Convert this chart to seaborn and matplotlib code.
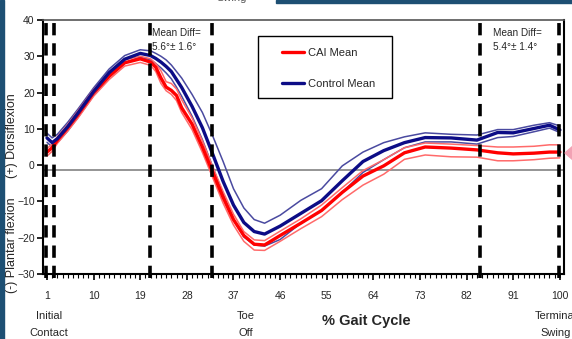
import numpy as np
import pandas as pd
import matplotlib
matplotlib.use("Agg")
import matplotlib.pyplot as plt
import seaborn as sns
from matplotlib.lines import Line2D
from matplotlib.patches import Rectangle, Polygon

# % gait cycle sample points
gait_pct = [1, 2, 3, 5, 7, 10, 13, 16, 19, 21, 22, 23, 24, 25, 26, 27, 29, 31, 33, 35,
            37, 39, 41, 43, 46, 50, 54, 58, 62, 66, 70, 74, 79, 84, 88, 91, 95, 98, 100]

control_mean = [7.5, 6.2, 7.3, 10.6, 14.4, 20.3, 25.5, 29.2, 30.8, 30.2, 29.4, 28.4, 27.2, 25.8,
                23.6, 21.4, 16.2, 10.3, 3.0, -4.5, -11.0, -15.8, -18.3, -19.0, -16.8, -13.3,
                -9.8, -4.3, 1.0, 4.0, 6.2, 7.6, 7.5, 6.9, 9.0, 8.9, 10.1, 11.0, 9.7]
control_upper = [8.8, 7.5, 8.5, 11.8, 15.5, 21.3, 26.5, 30.2, 31.8, 31.5, 30.8, 30.0, 29.0, 27.6,
                 25.8, 24.0, 19.5, 14.5, 8.0, 1.0, -6.5, -11.8, -15.0, -16.0, -13.8, -9.7,
                 -6.5, -0.2, 3.6, 6.2, 7.8, 8.9, 8.5, 8.3, 9.8, 9.8, 11.0, 11.7, 10.8]
control_lower = [6.3, 5.0, 6.2, 9.4, 13.2, 19.2, 24.4, 28.2, 29.8, 29.0, 28.0, 26.8, 25.4, 23.8,
                 21.5, 19.0, 13.5, 7.0, -0.5, -8.0, -15.0, -19.8, -22.0, -22.3, -20.5, -16.0,
                 -12.5, -7.5, -2.0, 1.5, 4.8, 6.4, 6.4, 5.8, 7.6, 7.9, 9.2, 10.2, 9.0]

cai_mean = [3.6, 4.8, 6.9, 10.3, 14.0, 20.0, 24.5, 28.2, 29.3, 28.4, 27.0, 24.0, 21.5, 20.6,
            19.2, 15.8, 11.3, 5.0, -2.0, -8.9, -15.0, -19.4, -21.8, -22.0, -19.4, -16.0,
            -12.5, -7.5, -3.0, -0.2, 3.4, 5.0, 4.7, 4.2, 3.4, 3.1, 3.3, 3.6, 3.6]
cai_upper = [4.6, 5.8, 7.8, 11.2, 15.0, 20.8, 25.3, 29.0, 30.0, 29.3, 28.0, 26.0, 23.0, 22.5,
             21.0, 18.0, 13.0, 6.7, -0.5, -7.3, -13.5, -18.3, -20.6, -20.8, -18.2, -14.8,
             -11.0, -6.2, -1.5, 1.5, 4.8, 6.1, 5.8, 5.4, 5.0, 5.0, 5.2, 5.6, 5.6]
cai_lower = [2.5, 3.8, 6.0, 9.4, 13.0, 19.0, 23.6, 27.3, 28.3, 27.5, 25.8, 22.5, 20.5, 19.5,
             17.8, 14.5, 9.8, 3.5, -3.5, -10.5, -16.5, -21.0, -23.4, -23.5, -21.0, -17.5,
             -14.2, -9.5, -5.5, -2.5, 1.6, 2.8, 2.3, 2.2, 1.2, 1.2, 1.5, 1.9, 2.0]

# gait events (dashed lines)
event_lines = [0.8, 2.4, 20.9, 32.9, 84.6, 99.8]
x_ticks = [1, 10, 19, 28, 37, 46, 55, 64, 73, 82, 91, 100]
y_ticks = [-30, -20, -10, 0, 10, 20, 30, 40]
zero_line = -1.4

RED = "#ff0000"
RED_LIGHT = "#ff6a6a"
NAVY = "#0c0c86"
NAVY_LIGHT = "#4a4aa0"
TXT = "#262626"
SLIDE = "#1d4f73"

sns.set_style("ticks")
plt.rcParams["font.family"] = ["Liberation Sans", "DejaVu Sans"]

fig = plt.figure(figsize=(5.72, 3.39), dpi=100)
ax = fig.add_axes([43 / 572, 65 / 339, 521 / 572, 254 / 339])

df = pd.DataFrame({"pct": gait_pct,
                   "control_mean": control_mean, "control_upper": control_upper,
                   "control_lower": control_lower, "cai_mean": cai_mean,
                   "cai_upper": cai_upper, "cai_lower": cai_lower})

ax.axhline(zero_line, color="#8c8c8c", lw=1.3, zorder=1)

for col in ["control_upper", "control_lower"]:
    sns.lineplot(data=df, x="pct", y=col, ax=ax, color=NAVY_LIGHT, lw=1.1, zorder=3)
for col in ["cai_upper", "cai_lower"]:
    sns.lineplot(data=df, x="pct", y=col, ax=ax, color=RED_LIGHT, lw=1.1, zorder=3)
sns.lineplot(data=df, x="pct", y="cai_mean", ax=ax, color=RED, lw=2.4, zorder=4)
sns.lineplot(data=df, x="pct", y="control_mean", ax=ax, color=NAVY, lw=2.4, zorder=5)

for xv in event_lines:
    ax.plot([xv, xv], [-31, 40], color="black", lw=2.6, linestyle=(0, (3.4, 2.2)),
            clip_on=False, zorder=6)

ax.set_xlim(0.23, 100.8)
ax.set_ylim(-30, 40)
ax.set_xticks(x_ticks)
ax.set_xticks(np.arange(1, 101, 1), minor=True)
ax.set_yticks(y_ticks)
ax.tick_params(axis="both", which="major", labelsize=7.5, length=4, width=1.2,
               color="black", labelcolor=TXT)
ax.tick_params(axis="x", which="major", pad=8)
ax.tick_params(axis="y", which="major", pad=2)
ax.tick_params(axis="x", which="minor", length=3, width=0.8, color="black")
ax.set_xlabel("")
ax.set_ylabel("")
for side in ["left", "bottom", "right"]:
    ax.spines[side].set_linewidth(1.5)
    ax.spines[side].set_color("black")
ax.spines["top"].set_linewidth(1.2)
ax.spines["top"].set_color("#555555")
ax.grid(False)

# legend: fixed box drawn as a rectangle, entries placed inside
ax.add_patch(Rectangle((0.4127, 0.693), 0.257, 0.244, transform=ax.transAxes,
                       fill=False, edgecolor="black", lw=1.0, zorder=7))
handles = [Line2D([], [], color=RED, lw=2.4), Line2D([], [], color=NAVY, lw=2.4)]
leg = ax.legend(handles, ["CAI Mean", "Control Mean"], loc="upper left",
                bbox_to_anchor=(0.459, 0.889), frameon=False,
                fontsize=8, labelspacing=1.85, handlelength=2.0, borderpad=0,
                handletextpad=0.3, borderaxespad=0)
for t in leg.get_texts():
    t.set_color(TXT)

def fx(px):
    return px / 572

def fy(py):
    return 1 - py / 339

fig.text(fx(152), fy(33), "Mean Diff=", fontsize=7.2, color=TXT, va="center", ha="left")
fig.text(fx(152), fy(47), "5.6\u00b0\u00b1 1.6\u00b0", fontsize=7.2, color=TXT, va="center", ha="left")
fig.text(fx(493), fy(33), "Mean Diff=", fontsize=7.2, color=TXT, va="center", ha="left")
fig.text(fx(493), fy(47), "5.4\u00b0\u00b1 1.4\u00b0", fontsize=7.2, color=TXT, va="center", ha="left")

fig.text(fx(49), fy(316), "Initial", fontsize=8, color=TXT, ha="center", va="center")
fig.text(fx(49), fy(333), "Contact", fontsize=8, color=TXT, ha="center", va="center")
fig.text(fx(246), fy(316), "Toe", fontsize=8, color=TXT, ha="center", va="center")
fig.text(fx(246), fy(333), "Off", fontsize=8, color=TXT, ha="center", va="center")
fig.text(fx(556), fy(316), "Terminal", fontsize=8, color=TXT, ha="center", va="center")
fig.text(fx(556), fy(333), "Swing", fontsize=8, color=TXT, ha="center", va="center")
fig.text(fx(366), fy(321), "% Gait Cycle", fontsize=10.5, fontweight="bold",
         color=TXT, ha="center", va="center")

fig.text(fx(12), fy(245), "(-) Plantar flexion", fontsize=9, color=TXT,
         rotation=90, ha="center", va="center")
fig.text(fx(12), fy(136), "(+) Dorsiflexion", fontsize=9, color=TXT,
         rotation=90, ha="center", va="center")

# slide decorations
fig.patches.append(Rectangle((0, 0), fx(4), 1, transform=fig.transFigure,
                             color=SLIDE, zorder=0))
fig.patches.append(Rectangle((fx(276), fy(3)), 1 - fx(276), 3 / 339,
                             transform=fig.transFigure, color=SLIDE, zorder=0))
fig.text(fx(232), fy(-2), "Swing", fontsize=8, color="#555555", ha="center", va="center")
fig.patches.append(Polygon([[fx(565), fy(153)], [fx(573), fy(146)], [fx(573), fy(160)]],
                           closed=True, transform=fig.transFigure, color="#f2a2b4", zorder=0))

fig.savefig("out.png", dpi=100)
